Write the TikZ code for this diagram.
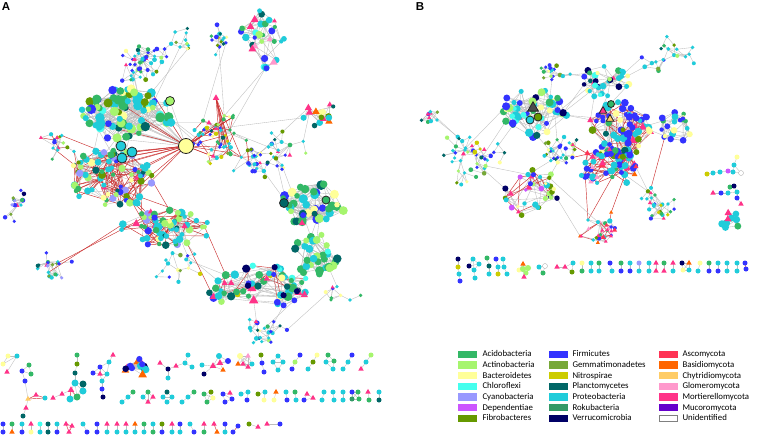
\documentclass[tikz,border=0pt]{standalone}
\usepackage{fontspec}
\setmainfont{Carlito}
\newfontfamily\labfont{Liberation Sans}
\usetikzlibrary{shapes.geometric}
\definecolor{cAci}{HTML}{33B866}
\definecolor{cAct}{HTML}{A6F56E}
\definecolor{cBac}{HTML}{FFFF99}
\definecolor{cChl}{HTML}{44FFEE}
\definecolor{cCya}{HTML}{9999FF}
\definecolor{cDep}{HTML}{CC55FF}
\definecolor{cFib}{HTML}{669900}
\definecolor{cFir}{HTML}{3333FF}
\definecolor{cGem}{HTML}{77A838}
\definecolor{cNit}{HTML}{CCCC00}
\definecolor{cPla}{HTML}{006666}
\definecolor{cPro}{HTML}{20CCDA}
\definecolor{cRok}{HTML}{339966}
\definecolor{cVer}{HTML}{000066}
\definecolor{cAsc}{HTML}{FF3355}
\definecolor{cBas}{HTML}{FF6600}
\definecolor{cChy}{HTML}{FFCC66}
\definecolor{cGlo}{HTML}{FF99CC}
\definecolor{cMor}{HTML}{FF3388}
\definecolor{cMuc}{HTML}{6600CC}
\definecolor{gEdge}{HTML}{BDBDBD}
\definecolor{rEdge}{HTML}{CC3333}
\tikzset{
 bnode/.style={circle,inner sep=0pt,outer sep=0pt,draw=none},
 fnode/.style={regular polygon,regular polygon sides=3,inner sep=0pt,outer sep=0pt,draw=none,scale=1.25},
 xaci/.style={bnode,fill=cAci}, xact/.style={bnode,fill=cAct}, xbac/.style={bnode,fill=cBac},
 xchl/.style={bnode,fill=cChl}, xcya/.style={bnode,fill=cCya}, xdep/.style={bnode,fill=cDep},
 xfib/.style={bnode,fill=cFib}, xfir/.style={bnode,fill=cFir}, xgem/.style={bnode,fill=cGem},
 xnit/.style={bnode,fill=cNit}, xpla/.style={bnode,fill=cPla}, xpro/.style={bnode,fill=cPro},
 xrok/.style={bnode,fill=cRok}, xver/.style={bnode,fill=cVer},
 xasc/.style={fnode,fill=cAsc}, xbas/.style={fnode,fill=cBas}, xchy/.style={fnode,fill=cChy},
 xglo/.style={fnode,fill=cGlo}, xmor/.style={fnode,fill=cMor}, xmuc/.style={fnode,fill=cMuc},
 xuni/.style={bnode,fill=white,draw=gray!70,line width=0.3pt},
 xdark/.style={fnode,fill=black!70},
 gedge/.style={draw=gEdge,line width=0.35pt},
 redge/.style={draw=rEdge,line width=0.45pt},
 ring/.style={draw=black!85,line width=0.8pt},
 swatch/.style={minimum width=18pt,minimum height=6.5pt,inner sep=0pt,line width=0.4pt},
 legtext/.style={anchor=west,inner sep=0pt,font=\fontsize{8.8}{10}\selectfont,text height=7pt,text depth=1.3pt},
 panel/.style={font=\labfont\bfseries\fontsize{11.5}{12}\selectfont,inner sep=0pt}
}
\pgfmathdeclarerandomlist{loose}{{xpro}{xpro}{xpro}{xpro}{xpro}{xpro}{xfir}{xfir}{xfir}{xaci}{xaci}{xpla}{xbac}{xact}{xmor}{xfib}{xnit}{xgem}}
\pgfmathdeclarerandomlist{dense}{{xpro}{xpro}{xpro}{xpro}{xpro}{xaci}{xaci}{xaci}{xact}{xact}{xact}{xfib}{xfib}{xfir}{xchl}{xpla}{xbac}}
\pgfmathdeclarerandomlist{reddy}{{xpro}{xpro}{xpro}{xpro}{xpro}{xpro}{xaci}{xaci}{xact}{xact}{xfir}{xfir}{xmor}{xbac}{xfib}{xpla}{xcya}}
\pgfmathdeclarerandomlist{greeny}{{xaci}{xaci}{xaci}{xaci}{xaci}{xpro}{xpro}{xpro}{xfir}{xfir}{xmor}{xpla}{xbac}{xact}}
\pgfmathdeclarerandomlist{greeny2}{{xaci}{xaci}{xaci}{xpro}{xpro}{xpro}{xpla}{xpla}{xchl}{xact}{xbac}}
\pgfmathdeclarerandomlist{center}{{xpro}{xpro}{xpro}{xpro}{xaci}{xaci}{xaci}{xfir}{xfir}{xbac}{xact}{xver}{xmor}{xnit}{xchl}{xpla}}
\pgfmathdeclarerandomlist{topr}{{xpro}{xpro}{xpro}{xaci}{xaci}{xfir}{xmor}{xmor}{xchl}{xpla}{xbac}{xact}{xglo}}
\pgfmathdeclarerandomlist{yel}{{xbac}{xbac}{xmor}{xmor}{xfib}{xpro}{xpro}{xaci}{xbas}{xpla}}
\pgfmathdeclarerandomlist{bluey}{{xfir}{xfir}{xfir}{xfir}{xfir}{xfir}{xpro}{xpro}{xpro}{xaci}{xmor}{xbac}{xfib}{xpla}}
\pgfmathdeclarerandomlist{fung}{{xmor}{xmor}{xasc}{xfir}{xfir}{xfir}{xpro}{xpro}{xpro}{xaci}{xfib}{xbas}{xglo}}
\pgfmathdeclarerandomlist{leftl}{{xver}{xfir}{xfir}{xpla}{xpro}{xpro}{xaci}{xgem}{xcya}{xmor}}
\pgfmathdeclarerandomlist{bmix}{{xpro}{xpro}{xpro}{xpro}{xpro}{xaci}{xaci}{xfir}{xfir}{xact}{xbac}{xbac}{xmor}{xchl}{xpla}{xver}}
\pgfmathdeclarerandomlist{bsev}{{xpro}{xpro}{xver}{xact}{xdep}{xfib}{xfir}{xaci}{xmor}{xbac}}
\pgfmathdeclarerandomlist{bfive}{{xpro}{xpro}{xpro}{xfir}{xfir}{xaci}{xbac}}
\pgfmathdeclarerandomlist{hair}{{xpro}{xpro}{xpro}{xpro}{xfir}{xfir}{xver}{xfib}{xbas}{xmor}}
\pgfmathdeclarerandomlist{bthree}{{xaci}{xaci}{xpro}{xpro}{xmor}}
\pgfkeys{/net/.cd,
 smin/.store in=\nSmin, smax/.store in=\nSmax, red/.store in=\nRed,
 extra/.store in=\nExtra, step/.store in=\nStep, tries/.store in=\nTries,
 seed/.code={\pgfmathsetseed{#1}}}
\newcount\ndcount
% register a node: coordinate now, filled node drawn at the end (above all edges)
\newcommand\putnode[5]{%
 \coordinate (#3) at (#4,#5);%
 \global\advance\ndcount by 1
 \expandafter\xdef\csname ND\the\ndcount\endcsname{\noexpand\node[#1,minimum size=#2pt] (n-#3) at (#4,#5) {};}}
\newcommand\netedge[2]{%
 \pgfmathtruncatemacro\isred{rnd<\nRed}%
 \ifnum\isred=1 \draw[redge] (#1) -- (#2);\else\draw[gedge] (#1) -- (#2);\fi}
% nearest of a few random partners
\newcommand\picknear[4]{%
 \xdef\bestd{9999}\xdef\bestk{1}%
 \edef\ccx{\csname X#1-#2\endcsname}\edef\ccy{\csname Y#1-#2\endcsname}%
 \foreach \t in {1,...,#4}{%
  \pgfmathtruncatemacro\kk{random(1,#3)}%
  \ifnum\kk=#2\else
   \edef\bx{\csname X#1-\kk\endcsname}\edef\by{\csname Y#1-\kk\endcsname}%
   \pgfmathsetmacro\dd{veclen(\ccx-\bx,\ccy-\by)}%
   \ifdim\dd pt<\bestd pt\xdef\bestd{\dd}\xdef\bestk{\kk}\fi
  \fi}}
\newcommand\netblob[8][]{%
 \pgfkeys{/net/.cd,smin=4,smax=7,red=0,extra=1,step=10,tries=3,#1}%
 \expandafter\xdef\csname N#2\endcsname{#7}%
 \foreach \i in {1,...,#7}{%
  \pgfmathsetmacro\ang{360*rnd}%
  \pgfmathsetmacro\rr{sqrt(rnd)}%
  \pgfmathsetmacro\px{#3+#5*\rr*cos(\ang)}%
  \pgfmathsetmacro\py{#4+#6*\rr*sin(\ang)}%
  \expandafter\xdef\csname X#2-\i\endcsname{\px}%
  \expandafter\xdef\csname Y#2-\i\endcsname{\py}%
  \pgfmathsetmacro\sz{\nSmin+(\nSmax-\nSmin)*rnd}%
  \pgfmathrandomitem\tx{#8}%
  \putnode{\tx}{\sz}{#2-\i}{\px}{\py}}%
 \foreach \i in {2,...,#7}{%
  \picknear{#2}{\i}{\i-1}{\nTries}%
  \netedge{#2-\i}{#2-\bestk}%
  \pgfmathtruncatemacro\ne{floor(\nExtra+rnd)}%
  \ifnum\ne>0
   \foreach \ee in {1,...,\ne}{%
    \picknear{#2}{\i}{#7}{\nTries}%
    \netedge{#2-\i}{#2-\bestk}}%
  \fi}}
\newcommand\netwalk[8][]{%
 \pgfkeys{/net/.cd,smin=3.5,smax=5,red=0,extra=0.25,step=10,#1}%
 \expandafter\xdef\csname N#2\endcsname{#7}%
 \foreach \i in {1,...,#7}{%
  \ifnum\i=1
   \edef\px{#3}\edef\py{#4}\def\jj{1}%
  \else
   \pgfmathtruncatemacro\jj{random(1,\i-1)}%
   \edef\qx{\csname X#2-\jj\endcsname}%
   \edef\qy{\csname Y#2-\jj\endcsname}%
   \pgfmathsetmacro\ang{360*rnd}%
   \pgfmathsetmacro\st{\nStep*(0.7+0.6*rnd)}%
   \pgfmathsetmacro\px{\qx+\st*cos(\ang)}%
   \pgfmathsetmacro\py{\qy+\st*sin(\ang)}%
   \pgfmathsetmacro\dd{sqrt(((\px-(#3))/(#5))^2+((\py-(#4))/(#6))^2)}%
   \ifdim\dd pt>1pt
    \pgfmathsetmacro\fc{(0.5+0.5*rnd)/\dd}%
    \pgfmathsetmacro\nx{#3+(\px-(#3))*\fc}%
    \pgfmathsetmacro\ny{#4+(\py-(#4))*\fc}%
    \let\px\nx \let\py\ny
   \fi
  \fi
  \expandafter\xdef\csname X#2-\i\endcsname{\px}%
  \expandafter\xdef\csname Y#2-\i\endcsname{\py}%
  \expandafter\xdef\csname P#2-\i\endcsname{\jj}%
  \pgfmathsetmacro\sz{\nSmin+(\nSmax-\nSmin)*rnd*rnd}%
  \pgfmathrandomitem\tx{#8}%
  \putnode{\tx}{\sz}{#2-\i}{\px}{\py}%
  \ifnum\i>1
   \netedge{#2-\i}{#2-\jj}%
   \pgfmathtruncatemacro\isx{rnd<\nExtra}%
   \ifnum\isx=1
    \edef\pp{\csname P#2-\jj\endcsname}%
    \ifnum\pp=\jj\else\netedge{#2-\i}{#2-\pp}\fi
   \fi
  \fi}}
\newcommand\netlink[4][gedge]{%
 \foreach \q in {1,...,#4}{%
  \xdef\bestd{9999}%
  \foreach \t in {1,...,20}{%
   \edef\na{\csname N#2\endcsname}\edef\nb{\csname N#3\endcsname}%
   \pgfmathtruncatemacro\ia{random(1,\na)}%
   \pgfmathtruncatemacro\ib{random(1,\nb)}%
   \edef\ax{\csname X#2-\ia\endcsname}\edef\ay{\csname Y#2-\ia\endcsname}%
   \edef\bx{\csname X#3-\ib\endcsname}\edef\by{\csname Y#3-\ib\endcsname}%
   \pgfmathsetmacro\dd{veclen(\ax-\bx,\ay-\by)}%
   \ifdim\dd pt<\bestd pt\xdef\bestd{\dd}\xdef\besta{\ia}\xdef\bestb{\ib}\fi}%
  \draw[#1] (#2-\besta) -- (#3-\bestb);}}
\newcommand\hublink[4][redge]{%
 \foreach \q in {1,...,#4}{%
  \edef\nb{\csname N#3\endcsname}%
  \pgfmathtruncatemacro\ib{random(1,\nb)}%
  \draw[#1] (#2) -- (#3-\ib);}}
\newcommand\cnode[5][5]{\putnode{#5}{#1}{#2}{#3}{#4}}
\newcommand\cedge[3][gedge]{\draw[#1] (#2) -- (#3);}
\newcommand\vpair[5]{\cnode{#1a}{#2}{#3}{#4}\pgfmathsetmacro\yb{#3+8}\cnode{#1b}{#2}{\yb}{#5}\cedge{#1a}{#1b}}
\begin{document}
\begin{tikzpicture}[x=1pt,y=-1pt]
\useasboundingbox (0,0) rectangle (758,437);
\fill[white] (0,0) rectangle (758,437);
\node[panel] (labA) at (6,7) {A};
\node[panel] (labB) at (420,7) {B};
% ---------------- Panel A main network
\netwalk[seed=11,step=10]{A1}{138}{50}{30}{36}{50}{loose}
\netwalk[seed=12,step=10]{A2}{180}{47}{9}{36}{12}{loose}
\netwalk[seed=13,step=9]{A3}{212}{40}{15}{22}{16}{loose}
\netblob[seed=14,smin=4,smax=8,extra=1.5]{A4}{262}{40}{22}{32}{32}{topr}
\netblob[seed=15,smin=5.5,smax=10,extra=2.5,tries=2]{A5}{127}{115}{46}{27}{80}{dense}
\netblob[seed=16,smin=4,smax=8,extra=2,red=0.5]{A6}{112}{178}{42}{32}{80}{reddy}
\netblob[seed=17,smin=4,smax=8,extra=2,red=0.5]{A7}{165}{228}{46}{18}{65}{reddy}
\netwalk[seed=18,step=12,red=0.2,extra=0.3]{A8}{230}{130}{40}{48}{55}{loose}
\netblob[seed=19,smin=4,smax=7,extra=1.5]{A9}{318}{113}{18}{13}{16}{yel}
\netwalk[seed=20,step=9]{A10}{260}{163}{27}{15}{24}{bluey}
\netblob[seed=21,smin=5.5,smax=10,extra=3,tries=2]{A11}{313}{205}{33}{22}{45}{greeny}
\netblob[seed=22,smin=6,smax=9,extra=3,tries=2]{A12}{316}{255}{24}{21}{30}{greeny2}
\netblob[seed=23,smin=5,smax=9,extra=2,red=0.1]{A13}{258}{287}{52}{22}{65}{center}
\netwalk[seed=24,step=11]{A14}{250}{328}{48}{16}{24}{loose}
\netwalk[seed=25,step=12]{A15}{48}{262}{48}{24}{20}{leftl}
\netwalk[seed=26,step=9]{A16}{14}{200}{12}{30}{14}{leftl}
\netwalk[seed=27,step=11,red=0.3]{A17}{58}{148}{30}{20}{18}{loose}
\netwalk[seed=28,step=11]{A18}{178}{270}{28}{20}{16}{loose}
\netwalk[seed=29,step=11]{A19}{350}{300}{30}{20}{9}{loose}
\netwalk[seed=30,step=11]{A20}{290}{145}{22}{28}{18}{loose}
\pgfmathsetseed{99}
\netlink{A1}{A5}{3}\netlink{A2}{A5}{2}\netlink{A2}{A1}{1}\netlink{A3}{A8}{2}
\netlink{A4}{A8}{2}\netlink{A8}{A9}{2}\netlink{A8}{A20}{2}\netlink{A20}{A11}{2}
\netlink{A9}{A20}{1}\netlink{A10}{A8}{2}\netlink{A10}{A20}{1}\netlink{A11}{A12}{3}
\netlink{A12}{A13}{2}\netlink{A13}{A14}{3}\netlink{A13}{A18}{2}\netlink{A7}{A18}{2}
\netlink[redge]{A6}{A7}{6}\netlink{A5}{A6}{6}\netlink[redge]{A6}{A17}{3}
\netlink[redge]{A15}{A7}{2}\netlink{A14}{A19}{1}\netlink{A12}{A19}{1}
\netlink[redge]{A7}{A13}{2}\netlink{A10}{A11}{1}\netlink[redge]{A8}{A10}{2}\netlink{A5}{A8}{3}
\putnode{xbac,ring}{15}{hubA}{186}{146}
\hublink[gedge]{hubA}{A5}{16}\hublink{hubA}{A6}{10}\hublink{hubA}{A8}{12}
\hublink{hubA}{A5}{4}
\putnode{xmor}{6}{hubA2}{216}{98}
\hublink{hubA2}{A8}{8}
\putnode{xpro,ring}{10}{rgA1}{121}{146}
\putnode{xpro,ring}{10}{rgA2}{132}{152}
\putnode{xpro,ring}{10}{rgA3}{122}{158}
\putnode{xact,ring}{9}{rgA4}{170}{101}
\putnode{xpla,ring}{9}{rgA5}{284}{203}
\putnode{xaci,ring}{8}{rgA6}{326}{200}
\cedge{rgA1}{rgA2}\cedge{rgA2}{rgA3}\cedge{rgA1}{rgA3}\cedge[redge]{hubA}{rgA2}
\cedge{hubA}{rgA4}\cedge{rgA5}{rgA6}
% ---------------- Panel A small components, row 1
\cnode{a1a}{8}{356}{xbac}\cnode{a1b}{17}{356}{xpro}\cnode{a1c}{3}{364}{xbac}\cnode{a1d}{7}{372}{xmor}
\cedge{a1b}{a1a}\cedge{a1b}{a1c}\cedge{a1b}{a1d}\cedge{a1a}{a1c}
\cnode{c2a}{22}{371}{xfir}\cnode{c2b}{29}{365}{xaci}\cnode{c2c}{31}{374}{xaci}\cnode{c2d}{25}{381}{xfir}
\cnode{c2e}{28}{399}{xchy}\cnode{c2f}{36}{395}{xmor}\cnode{c2g}{45}{398}{xpro}\cnode{c2h}{26}{408}{xmor}\cnode{c2i}{23}{416}{xpla}
\cedge{c2a}{c2b}\cedge{c2b}{c2c}\cedge{c2a}{c2c}\cedge{c2a}{c2d}\cedge{c2d}{c2e}\cedge[redge]{c2e}{c2f}
\cedge[redge]{c2f}{c2g}\cedge[redge]{c2e}{c2g}\cedge{c2e}{c2h}\cedge{c2h}{c2i}
\cnode{c3a}{53}{398}{xmor}\cnode{c3b}{62}{394}{xmor}\cnode[6]{c3c}{71}{390}{xmor}\cnode[7]{c3d}{75}{383}{xpro}
\cnode[7]{c3e}{83}{384}{xpla}\cnode[7]{c3f}{83}{391}{xpro}\cnode[7]{c3g}{77}{397}{xaci}\cnode[7]{c3h}{70}{399}{xpro}
\cnode{c3i}{75}{373}{xpla}\cnode{c3j}{77}{364}{xfib}\cnode{c3k}{77}{355}{xaci}
\cedge{c3a}{c3b}\cedge{c3b}{c3c}\cedge{c3c}{c3d}\cedge[redge]{c3c}{c3h}\cedge{c3d}{c3e}\cedge{c3e}{c3f}
\cedge{c3f}{c3g}\cedge{c3g}{c3h}\cedge{c3d}{c3f}\cedge{c3d}{c3g}\cedge{c3e}{c3g}\cedge[redge]{c3c}{c3g}
\cedge{c3i}{c3d}\cedge{c3i}{c3j}\cedge{c3j}{c3k}
\cnode{c4a}{93}{373}{xfir}\cnode{c4b}{100}{367}{xfir}\cnode{c4c}{109}{362}{xpro}\cnode{c4d}{113}{355}{xmor}
\cnode{c4e}{100}{374}{xmor}\cnode{c4f}{107}{374}{xpro}\cnode{c4g}{102}{381}{xpro}\cnode{c4h}{102}{389}{xfir}\cnode{c4i}{103}{397}{xver}
\cedge{c4a}{c4b}\cedge{c4b}{c4c}\cedge{c4c}{c4d}\cedge{c4b}{c4e}\cedge{c4b}{c4f}\cedge{c4e}{c4f}
\cedge{c4c}{c4f}\cedge{c4f}{c4g}\cedge{c4e}{c4g}\cedge{c4g}{c4h}\cedge{c4h}{c4i}\cedge{c4a}{c4e}
\netblob[seed=51,smin=6,smax=8,extra=3.5,tries=1]{c5}{135}{368}{12}{11}{14}{hair}
\cnode{c6a}{160}{363}{xmor}\cnode{c6b}{168}{369}{xver}\cnode{c6c}{168}{378}{xpro}\cnode{c6d}{176}{366}{xmor}
\cnode{c6e}{185}{363}{xpro}\cnode{c6f}{188}{355}{xpro}\cnode{c6g}{192}{367}{xpro}
\cedge{c6a}{c6b}\cedge{c6b}{c6c}\cedge{c6b}{c6d}\cedge{c6d}{c6e}\cedge{c6e}{c6f}\cedge{c6e}{c6g}
\cnode{c7a}{202}{365}{xpro}\cnode{c7b}{204}{374}{xver}\cnode[6]{c7c}{213}{366}{xmor}\cnode[6]{c7d}{219}{356}{xpro}
\cnode[6]{c7e}{220}{363}{xmor}\cnode[6]{c7f}{228}{361}{xfir}\cnode[5]{c7g}{223}{370}{xbas}
\cedge{c7a}{c7c}\cedge{c7b}{c7c}\cedge{c7c}{c7d}\cedge{c7c}{c7e}\cedge{c7d}{c7e}\cedge{c7e}{c7f}
\cedge{c7c}{c7g}\cedge{c7e}{c7g}\cedge{c7d}{c7f}\cedge{c7c}{c7f}
\cnode[6]{c8a}{240}{356}{xbac}\cnode{c8b}{248}{356}{xglo}\cnode{c8c}{238}{364}{xbas}
\cnode{c8d}{243}{364}{xmor}\cnode{c8e}{248}{367}{xmor}\cnode{c8f}{252}{364}{xpro}
\foreach \u/\v in {a/b,a/c,a/d,a/e,a/f,b/c,b/d,b/e,b/f,c/d,c/e,d/e,d/f,e/f,c/f}{\cedge{c8\u}{c8\v}}
\cnode{c9a}{261}{355}{xfib}\cnode{c9b}{262}{363}{xfir}\cnode{c9c}{264}{372}{xfir}\cedge{c9a}{c9b}\cedge{c9b}{c9c}
\cnode{d1a}{278}{356}{xpro}\cnode{d1b}{273}{362}{xpro}\cnode{d1c}{283}{362}{xpro}\cnode{d1d}{278}{370}{xpro}
\cedge{d1a}{d1b}\cedge{d1a}{d1c}\cedge{d1b}{d1d}\cedge{d1c}{d1d}\cedge{d1b}{d1c}
\cnode{d2a}{300}{355}{xfir}\cnode{d2b}{295}{362}{xact}\cnode{d2c}{292}{369}{xfir}\cedge{d2a}{d2b}\cedge{d2b}{d2c}
\cnode{d3a}{317}{355}{xbac}\cnode{d3b}{313}{362}{xfib}\cnode{d3c}{308}{369}{xpro}\cedge{d3a}{d3b}\cedge{d3b}{d3c}
\cnode{d4a}{328}{355}{xaci}\cnode{d4b}{326}{362}{xpro}\cnode{d4c}{334}{361}{xaci}\cnode{d4d}{333}{369}{xpro}
\cedge{d4a}{d4b}\cedge{d4a}{d4c}\cedge{d4b}{d4c}\cedge{d4b}{d4d}\cedge{d4c}{d4d}
\cnode{d5a}{352}{355}{xfir}\cnode{d5b}{348}{362}{xpro}\cnode{d5c}{343}{369}{xpro}\cedge{d5a}{d5b}\cedge{d5b}{d5c}
\cnode{d6a}{371}{355}{xact}\cnode{d6b}{366}{362}{xpro}\cnode{d6c}{361}{369}{xmor}\cedge{d6a}{d6b}\cedge{d6b}{d6c}
% row 2
\cnode{e1a}{133}{392}{xaci}\cnode{e1b}{128}{397}{xpro}\cnode{e1c}{122}{402}{xpro}\cedge{e1a}{e1b}\cedge{e1b}{e1c}
\cnode{e2a}{148}{392}{xaci}\cnode{e2b}{143}{397}{xpro}\cnode{e2c}{153}{397}{xmor}\cnode{e2d}{148}{402}{xmor}
\cedge{e2a}{e2b}\cedge{e2a}{e2c}\cedge{e2b}{e2d}\cedge{e2c}{e2d}\cedge{e2a}{e2d}
\cnode{e3a}{167}{392}{xpla}\cnode{e3b}{163}{397}{xpro}\cnode{e3c}{172}{397}{xpro}\cnode{e3d}{167}{402}{xpro}
\cedge{e3a}{e3b}\cedge{e3a}{e3c}\cedge{e3b}{e3d}\cedge{e3c}{e3d}\cedge{e3b}{e3c}
\cnode{e4a}{194}{392}{xaci}\cnode{e4b}{188}{397}{xpro}\cnode{e4c}{182}{402}{xpro}\cedge{e4a}{e4b}\cedge{e4b}{e4c}
\cnode{e5a}{204}{394}{xaci}\cnode{e5b}{211}{392}{xfib}\cnode{e5c}{213}{398}{xbac}\cnode{e5d}{207}{402}{xaci}
\foreach \u/\v in {a/b,a/c,a/d,b/c,b/d,c/d}{\cedge{e5\u}{e5\v}}
\cnode{e6a}{223}{394}{xfir}\cnode{e6b}{230}{393}{xmor}\cnode{e6c}{232}{399}{xfir}\cnode{e6d}{225}{402}{xfir}
\foreach \u/\v in {a/b,a/c,a/d,c/d,b/c}{\cedge{e6\u}{e6\v}}
\cnode{e7a}{241}{394}{xpro}\cnode{e7b}{248}{392}{xpro}\cnode{e7c}{247}{400}{xfir}\cedge{e7a}{e7b}\cedge{e7b}{e7c}
\cnode{e8a}{258}{394}{xfib}\cnode{e8b}{265}{392}{xpro}\cnode{e8c}{264}{400}{xbac}\cedge{e8a}{e8b}\cedge{e8b}{e8c}
\cnode{e9a}{276}{392}{xbas}\cnode{e9b}{274}{400}{xbac}\cedge{e9a}{e9b}
\cnode{f1a}{286}{392}{xpro}\cnode{f1b}{287}{400}{xfir}\cedge{f1a}{f1b}
\cnode{f2a}{295}{392}{xaci}\cnode{f2b}{296}{400}{xpro}\cedge{f2a}{f2b}
\cnode{f3a}{304}{400}{xfir}\cnode{f3b}{307}{394}{xmor}\cnode{f3c}{313}{398}{xmor}
\cedge{f3a}{f3c}\cedge{f3b}{f3c}\cedge{f3a}{f3b}
\cnode{f4a}{324}{392}{xpro}\cnode{f4b}{322}{400}{xpro}\cedge{f4a}{f4b}
\cnode{f5a}{333}{392}{xpro}\cnode{f5b}{334}{400}{xpro}\cedge{f5a}{f5b}
\cnode{f6a}{343}{392}{xpro}\cnode{f6b}{343}{400}{xpro}\cedge{f6a}{f6b}
\cnode{f7a}{352}{392}{xfir}\cnode{f7b}{358}{392}{xaci}\cnode{f7c}{352}{399}{xrok}\cnode{f7d}{359}{399}{xaci}
\foreach \u/\v in {a/b,a/c,a/d,b/c,b/d,c/d}{\cedge{f7\u}{f7\v}}
\cnode{f8a}{368}{392}{xmor}\cnode{f8b}{369}{400}{xaci}\cedge{f8a}{f8b}
\cnode{f9a}{379}{392}{xpro}\cnode{f9b}{379}{400}{xpla}\cedge{f9a}{f9b}
% row 3
\foreach \x/\s/\t [count=\n] in {3/xfir/xfir,12/xaci/xbas,22/xpro/xfir,31/xmor/xbac,40/xchl/xpro,48/xpla/xpla,57/xpro/xfir,97/xfir/xfir,107/xmor/xpro,117/xmor/xpro,126/xmor/xpro,135/xbas/xpro,144/xaci/xpro,153/xpro/xaci,162/xfib/xfir,172/xmor/xpro,180/xfir/xpro,204/xmor/xaci,225/xfir/xpro}{\vpair{rC\n}{\x}{424}{\s}{\t}}
\cnode{g1a}{66}{424}{xmor}\cnode{g1b}{72}{426}{xmor}\cnode{g1c}{69}{432}{xmor}
\cedge[redge]{g1a}{g1b}\cedge[redge]{g1b}{g1c}\cedge[redge]{g1a}{g1c}
\cnode{g2a}{83}{424}{xpro}\cnode{g2b}{87}{432}{xfir}\cedge{g2a}{g2b}
\cnode{g3a}{190}{424}{xpro}\cnode{g3b}{194}{432}{xfir}\cedge{g3a}{g3b}
\cnode{g4a}{214}{424}{xmor}\cnode{g4b}{217}{432}{xbas}\cedge[redge]{g4a}{g4b}
\cnode{g5a}{238}{426}{xfir}\cnode{g5b}{233}{432}{xfir}\cedge[redge]{g5a}{g5b}
\cnode{g6a}{249}{424}{xfib}\cnode{g6b}{258}{427}{xmor}\cedge{g6a}{g6b}
\cnode{g7a}{267}{424}{xmor}\cnode{g7b}{280}{424}{xfir}\cedge{g7a}{g7b}
% ---------------- Panel B main network
\netblob[seed=31,smin=4.5,smax=8.5,extra=2]{B1}{535}{112}{34}{26}{55}{bmix}
\netblob[seed=32,smin=4,smax=7,extra=1.5]{B2}{605}{82}{25}{17}{35}{bmix}
\netblob[seed=33,smin=4.5,smax=8,extra=2.5,red=0.4]{B3}{620}{130}{32}{30}{75}{bluey}
\netblob[seed=34,smin=4,smax=7.5,extra=2,red=0.55]{B4}{608}{167}{30}{20}{55}{fung}
\netblob[seed=35,smin=4,smax=7,extra=2.5]{B5}{675}{127}{18}{15}{22}{bfive}
\netwalk[seed=36,step=11]{B6}{465}{150}{45}{35}{45}{loose}
\netblob[seed=37,smin=3.5,smax=6.5,extra=1,red=0.25]{B7}{530}{192}{32}{24}{35}{bsev}
\netwalk[seed=38,step=10,red=0.5,smin=3.5,smax=5.5]{B8}{588}{220}{30}{28}{30}{fung}
\netwalk[seed=39,step=9]{B9}{563}{155}{20}{28}{30}{loose}
\netwalk[seed=40,step=11]{B10}{675}{55}{42}{25}{22}{loose}
\netwalk[seed=41,step=9]{B11}{437}{120}{20}{10}{10}{loose}
\netwalk[seed=42,step=10]{B12}{655}{195}{35}{28}{26}{loose}
\netwalk[seed=43,step=8]{B13}{560}{75}{25}{12}{18}{loose}
\pgfmathsetseed{77}
\netlink{B1}{B6}{3}\netlink{B1}{B2}{3}\netlink{B1}{B9}{2}\netlink{B2}{B3}{3}
\netlink[redge]{B3}{B4}{5}\netlink{B3}{B5}{2}\netlink[redge]{B4}{B8}{3}\netlink{B4}{B12}{2}
\netlink{B9}{B7}{2}\netlink{B7}{B8}{2}\netlink{B6}{B11}{2}\netlink{B2}{B10}{2}
\netlink{B13}{B2}{2}\netlink{B13}{B1}{1}\netlink{B6}{B7}{2}\netlink[redge]{B9}{B4}{2}
\netlink{B1}{B3}{2}\netlink[redge]{B5}{B12}{1}
\putnode{xdark,ring}{10}{rgB1}{533}{108}
\putnode{xpro,ring}{8}{rgB2}{530}{120}
\putnode{xfib,ring}{8}{rgB3}{538}{117}
\putnode{xaci,ring}{7}{rgB4}{611}{104}
\putnode{xmor,ring}{7}{rgB5}{603}{111}
\putnode{xchy,ring}{7}{rgB6}{610}{119}
\cedge{rgB1}{rgB2}\cedge{rgB2}{rgB3}\cedge{rgB1}{rgB3}
\cedge[redge]{rgB4}{rgB5}\cedge[redge]{rgB5}{rgB6}\cedge[redge]{rgB4}{rgB6}
% right isolated components
\cnode{h1a}{707}{174}{xnit}\cnode{h1b}{713}{173}{xpro}\cnode{h1c}{720}{172}{xpro}\cnode{h1d}{728}{171}{xdep}
\cnode{h1e}{733}{172}{xpro}\cnode{h1f}{734}{165}{xpro}\cnode{h1g}{737}{157}{xbac}\cnode[5]{h1h}{741}{173}{xuni}
\cedge{h1a}{h1b}\cedge{h1b}{h1c}\cedge{h1c}{h1d}\cedge{h1d}{h1e}\cedge{h1e}{h1f}\cedge{h1f}{h1g}\cedge{h1e}{h1h}\cedge{h1f}{h1h}
\cnode{h2a}{713}{193}{xmor}\cnode{h2b}{721}{193}{xfir}\cnode{h2c}{728}{193}{xpro}\cnode{h2d}{730}{187}{xaci}
\cnode{h2e}{734}{186}{xver}\cnode{h2f}{737}{192}{xpro}\cnode{h2g}{737}{198}{xfir}\cnode{h2h}{741}{204}{xmor}
\cedge{h2a}{h2b}\cedge{h2b}{h2c}\cedge{h2c}{h2d}\cedge{h2d}{h2e}\cedge{h2e}{h2f}\cedge{h2c}{h2f}\cedge{h2f}{h2g}\cedge{h2g}{h2h}
\netblob[seed=61,smin=6,smax=8,extra=4,tries=1]{H3}{733}{222}{13}{11}{9}{bthree}
% B bottom row
\cnode{k1a}{458}{259}{xver}\cnode{k1b}{458}{267}{xnit}\cnode{k1c}{459}{274}{xpro}\cnode{k1d}{460}{281}{xfir}
\cedge{k1a}{k1b}\cedge{k1b}{k1c}\cedge{k1c}{k1d}
\cnode{k2a}{469}{266}{xver}\cnode{k2b}{473}{259}{xpro}\cnode{k2c}{479}{264}{xpro}\cnode{k2d}{474}{270}{xpro}\cnode{k2e}{475}{278}{xpro}
\foreach \u/\v in {a/b,a/c,a/d,b/c,b/d,c/d,d/e}{\cedge{k2\u}{k2\v}}
\cnode{k3a}{487}{258}{xaci}\cnode{k3b}{489}{266}{xpla}\cnode{k3c}{489}{274}{xpro}\cedge{k3a}{k3b}\cedge{k3b}{k3c}
\cnode{k4a}{496}{259}{xfir}\cnode{k4b}{498}{267}{xpro}\cnode{k4c}{498}{274}{xnit}\cedge{k4a}{k4b}\cedge{k4b}{k4c}
\cnode{k5a}{503}{259}{xpro}\cnode{k5b}{504}{267}{xpro}\cnode{k5c}{507}{274}{xpro}\cedge{k5a}{k5b}\cedge{k5b}{k5c}
\cnode{k6a}{523}{264}{xbas}\cnode{k6b}{519}{270}{xbac}\cnode[6]{k6c}{523}{269}{xact}\cnode[6]{k6d}{528}{268}{xact}
\cnode[5]{k6e}{526}{273}{xact}\cnode{k6f}{524}{277}{xmor}
\foreach \u/\v in {a/b,a/c,a/d,b/c,b/e,c/d,c/e,d/e,e/f,c/f,a/e}{\cedge{k6\u}{k6\v}}
\cnode{k7a}{539}{267}{xpro}\cnode{k7b}{543}{273}{xaci}\cnode[5]{k7c}{545}{266}{xuni}
\cedge{k7a}{k7b}\cedge{k7a}{k7c}\cedge{k7b}{k7c}
\cnode{k8a}{557}{267}{xmor}\cnode{k8b}{565}{267}{xmor}\cnode{k8c}{573}{263}{xpro}\cnode{k8d}{572}{272}{xfib}
\cedge{k8a}{k8b}\cedge{k8b}{k8c}\cedge{k8b}{k8d}\cedge{k8c}{k8d}
\foreach \x/\s/\t [count=\n] in {582/xbac/xaci,591/xpro/xpro,599/xaci/xpro,621/xaci/xfir,630/xpro/xfir,639/xcya/xpro,649/xpro/xpro,656/xmor/xmor,664/xaci/xmor,673/xmor/xpro,709/xaci/xfir,718/xpro/xfir,727/xpro/xpro,737/xpro/xpro}{\vpair{rB\n}{\x}{263}{\s}{\t}}
\cnode{k9a}{610}{263}{xfir}\cnode{k9b}{612}{271}{xpro}\cedge{k9a}{k9b}
\cnode{m1a}{682}{263}{xver}\cnode{m1b}{689}{263}{xbas}\cnode{m1c}{683}{270}{xbac}\cnode{m1d}{689}{270}{xpro}
\foreach \u/\v in {a/b,a/c,a/d,b/c,b/d,c/d}{\cedge{m1\u}{m1\v}}
\cnode{m2a}{700}{263}{xbac}\cnode{m2b}{698}{271}{xpro}\cedge{m2a}{m2b}
\cnode{m3a}{745}{263}{xfir}\cnode{m3b}{746}{269}{xfir}\cedge[redge]{m3a}{m3b}
% ---------------- all filled nodes, above the connectors
\edef\ndtotal{\the\ndcount}
\foreach \q in {1,...,\ndtotal}{\csname ND\q\endcsname}
% ---------------- Legend
\foreach \lab/\col/\bd [count=\r] in {Acidobacteria/cAci/cAci,Actinobacteria/cAct/cAct,Bacteroidetes/cBac/cBac,Chloroflexi/cChl/cChl,Cyanobacteria/cCya/cCya,Dependentiae/cDep/cDep,Fibrobacteres/cFib/cFib}{
 \node[swatch,fill=\col,draw=\bd] (lga\r) at (467.5,{354+(\r-1)*10.67}) {};
 \node[legtext] (lgat\r) at (482.3,{354+(\r-1)*10.67}) {\lab};}
\foreach \lab/\col/\bd [count=\r] in {Firmicutes/cFir/cFir,Gemmatimonadetes/cGem/cGem,Nitrospirae/cNit/cNit,Planctomycetes/cPla/cPla,Proteobacteria/cPro/cPro,Rokubacteria/cRok/cRok,Verrucomicrobia/cVer/cVer}{
 \node[swatch,fill=\col,draw=\bd] (lgb\r) at (558,{354+(\r-1)*10.67}) {};
 \node[legtext] (lgbt\r) at (572.3,{354+(\r-1)*10.67}) {\lab};}
\foreach \lab/\col/\bd [count=\r] in {Ascomycota/cAsc/cAsc,Basidiomycota/cBas/cBas,Chytridiomycota/cChy/cChy,Glomeromycota/cGlo/cGlo,Mortierellomycota/cMor/cMor,Mucoromycota/cMuc/cMuc,Unidentified/white/gray}{
 \node[swatch,fill=\col,draw=\bd] (lgc\r) at (668.3,{354+(\r-1)*10.67}) {};
 \node[legtext] (lgct\r) at (682.3,{354+(\r-1)*10.67}) {\lab};}
\end{tikzpicture}
\end{document}
